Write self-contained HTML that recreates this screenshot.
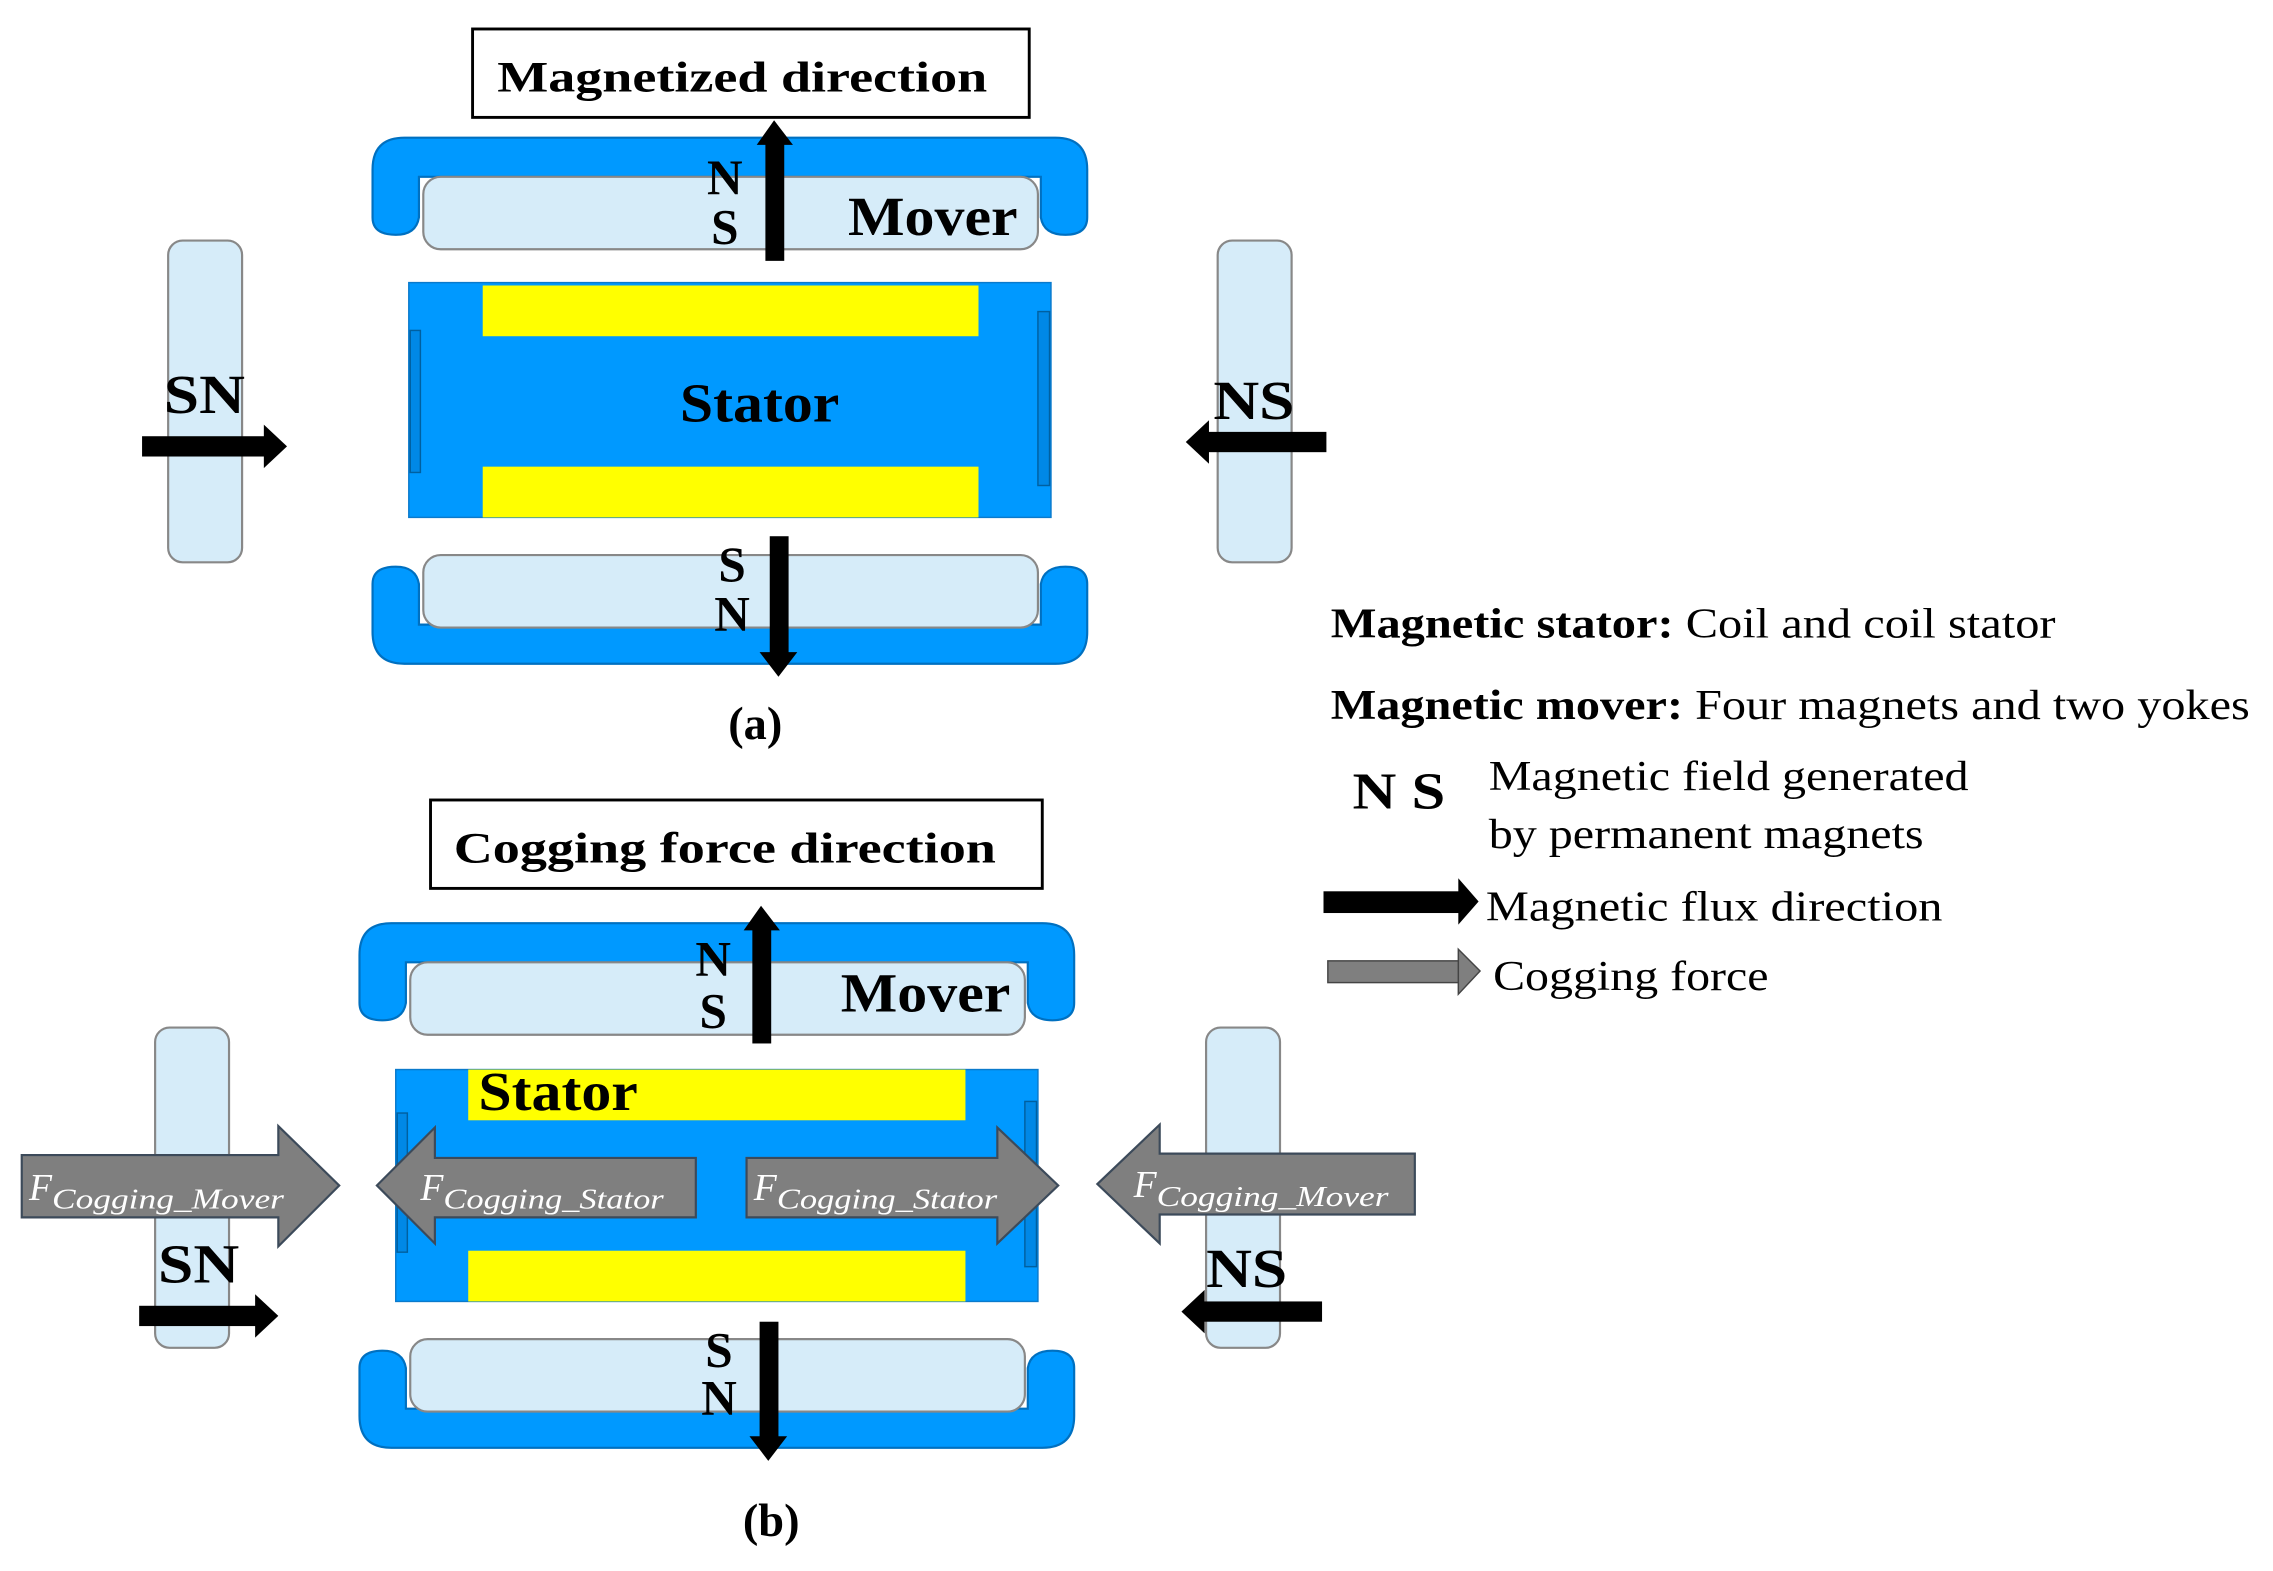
<!DOCTYPE html>
<html><head><meta charset="utf-8"><style>
html,body{margin:0;padding:0;background:#fff;}
svg{display:block;}
text{font-family:"Liberation Serif",serif;}
.b{font-weight:bold;}
.f{fill:#fff;font-style:italic;}
</style></head><body>
<svg width="2273" height="1571" viewBox="0 0 1568 1084" preserveAspectRatio="none" xmlns="http://www.w3.org/2000/svg">
<defs>
<path id="yk" d="M0,55 L0,22 Q0,0 22,0 L471,0 Q493,0 493,22 L493,55 Q493,67 478,67 Q463,67 461,55 L461,27 L32,27 L32,55 Q30,67 16,67 Q0,67 0,55 Z" fill="#0099ff" stroke="#0070c0" stroke-width="1.5"/>
<g id="topyoke">
  <use href="#yk"/>
  <rect x="35" y="27" width="424" height="50" rx="12" fill="#d6ecf9" stroke="#888" stroke-width="1.5"/>
</g>
<g id="botyoke">
  <use href="#yk" transform="translate(0,75) scale(1,-1)"/>
  <rect x="35" y="0" width="424" height="50" rx="12" fill="#d6ecf9" stroke="#888" stroke-width="1.5"/>
</g>
</defs>

<!-- (a) -->
<rect x="326" y="20" width="384" height="61" fill="#fff" stroke="#000" stroke-width="2"/>
<text x="512" y="63" class="b" font-size="30" text-anchor="middle" textLength="338" lengthAdjust="spacingAndGlyphs">Magnetized direction</text>

<use href="#topyoke" x="257" y="95"/>
<rect x="528" y="98" width="13" height="82" fill="#000"/>
<polygon points="534,83 522,100 547,100" fill="#000"/>
<text x="500" y="134" class="b" font-size="34" text-anchor="middle">N</text>
<text x="500" y="168" class="b" font-size="34" text-anchor="middle">S</text>
<text x="585" y="162" class="b" font-size="38" textLength="117" lengthAdjust="spacingAndGlyphs">Mover</text>

<rect x="282" y="195" width="443" height="162" fill="#0099ff" stroke="#0a7acc" stroke-width="1"/>
<rect x="333" y="197" width="342" height="35" fill="#ffff00"/>
<rect x="333" y="322" width="342" height="35" fill="#ffff00"/>
<rect x="283" y="228" width="7" height="98" fill="#0088e6" stroke="#0060a0" stroke-width="1"/>
<rect x="716" y="215" width="8" height="120" fill="#0088e6" stroke="#0060a0" stroke-width="1"/>
<text x="524" y="291" class="b" font-size="38" text-anchor="middle" textLength="110" lengthAdjust="spacingAndGlyphs">Stator</text>

<use href="#botyoke" x="257" y="383"/>
<rect x="531" y="370" width="13" height="82" fill="#000"/>
<polygon points="537,467 524,450 550,450" fill="#000"/>
<text x="505" y="401" class="b" font-size="34" text-anchor="middle">S</text>
<text x="505" y="435" class="b" font-size="34" text-anchor="middle">N</text>
<text x="521" y="510" class="b" font-size="32" text-anchor="middle">(a)</text>

<rect x="116" y="166" width="51" height="222" rx="10" fill="#d6ecf9" stroke="#888" stroke-width="1.5"/>
<text x="141" y="285" class="b" font-size="38" text-anchor="middle" textLength="56" lengthAdjust="spacingAndGlyphs">SN</text>
<rect x="98" y="301" width="86" height="14" fill="#000"/>
<polygon points="198,308 182,293 182,323" fill="#000"/>

<rect x="840" y="166" width="51" height="222" rx="10" fill="#d6ecf9" stroke="#888" stroke-width="1.5"/>
<text x="865" y="289" class="b" font-size="38" text-anchor="middle" textLength="56" lengthAdjust="spacingAndGlyphs">NS</text>
<rect x="832" y="298" width="83" height="14" fill="#000"/>
<polygon points="818,305 834,290 834,320" fill="#000"/>

<!-- (b) -->
<rect x="297" y="552" width="422" height="61" fill="#fff" stroke="#000" stroke-width="2"/>
<text x="500" y="595" class="b" font-size="30" text-anchor="middle" textLength="374" lengthAdjust="spacingAndGlyphs">Cogging force direction</text>

<use href="#topyoke" x="248" y="637"/>
<rect x="519" y="640" width="13" height="80" fill="#000"/>
<polygon points="525,625 513,642 538,642" fill="#000"/>
<text x="492" y="673" class="b" font-size="34" text-anchor="middle">N</text>
<text x="492" y="709" class="b" font-size="34" text-anchor="middle">S</text>
<text x="580" y="698" class="b" font-size="38" textLength="117" lengthAdjust="spacingAndGlyphs">Mover</text>

<rect x="107" y="709" width="51" height="221" rx="10" fill="#d6ecf9" stroke="#888" stroke-width="1.5"/>
<rect x="832" y="709" width="51" height="221" rx="10" fill="#d6ecf9" stroke="#888" stroke-width="1.5"/>

<rect x="273" y="738" width="443" height="160" fill="#0099ff" stroke="#0a7acc" stroke-width="1"/>
<rect x="323" y="738" width="343" height="35" fill="#ffff00"/>
<rect x="323" y="863" width="343" height="35" fill="#ffff00"/>
<rect x="274" y="768" width="7" height="96" fill="#0088e6" stroke="#0060a0" stroke-width="1"/>
<rect x="707" y="760" width="8" height="114" fill="#0088e6" stroke="#0060a0" stroke-width="1"/>
<text x="330" y="766" class="b" font-size="38" textLength="110" lengthAdjust="spacingAndGlyphs">Stator</text>

<text x="137" y="885" class="b" font-size="38" text-anchor="middle" textLength="56" lengthAdjust="spacingAndGlyphs">SN</text>
<rect x="96" y="901" width="82" height="14" fill="#000"/>
<polygon points="192,908 176,893 176,923" fill="#000"/>
<text x="860" y="888" class="b" font-size="38" text-anchor="middle" textLength="56" lengthAdjust="spacingAndGlyphs">NS</text>
<rect x="829" y="898" width="83" height="14" fill="#000"/>
<polygon points="815,905 831,890 831,920" fill="#000"/>

<!-- gray force arrows -->
<polygon points="15,797 192,797 192,777 234,818 192,860 192,840 15,840" fill="#7f7f7f" stroke="#3c4a5a" stroke-width="1.5"/>
<polygon points="480,799 300,799 300,778 260,818 300,858 300,840 480,840" fill="#7f7f7f" stroke="#3c4a5a" stroke-width="1.5"/>
<polygon points="515,799 688,799 688,778 730,818 688,858 688,840 515,840" fill="#7f7f7f" stroke="#3c4a5a" stroke-width="1.5"/>
<polygon points="976,796 800,796 800,776 757,817 800,858 800,838 976,838" fill="#7f7f7f" stroke="#3c4a5a" stroke-width="1.5"/>
<text x="20" y="828" class="f" font-size="26">F<tspan font-size="20" dy="6" textLength="160" lengthAdjust="spacingAndGlyphs">Cogging_Mover</tspan></text>
<text x="290" y="828" class="f" font-size="26">F<tspan font-size="20" dy="6" textLength="152" lengthAdjust="spacingAndGlyphs">Cogging_Stator</tspan></text>
<text x="520" y="828" class="f" font-size="26">F<tspan font-size="20" dy="6" textLength="152" lengthAdjust="spacingAndGlyphs">Cogging_Stator</tspan></text>
<text x="782" y="826" class="f" font-size="26">F<tspan font-size="20" dy="6" textLength="160" lengthAdjust="spacingAndGlyphs">Cogging_Mover</tspan></text>

<use href="#botyoke" x="248" y="924"/>
<rect x="524" y="912" width="13" height="80" fill="#000"/>
<polygon points="530,1008 517,991 543,991" fill="#000"/>
<text x="496" y="943" class="b" font-size="34" text-anchor="middle">S</text>
<text x="496" y="976" class="b" font-size="34" text-anchor="middle">N</text>
<text x="532" y="1060" class="b" font-size="32" text-anchor="middle">(b)</text>

<!-- legend -->
<text x="918" y="440" font-size="29" textLength="500" lengthAdjust="spacingAndGlyphs"><tspan class="b">Magnetic stator:</tspan> Coil and coil stator</text>
<text x="918" y="496" font-size="29" textLength="634" lengthAdjust="spacingAndGlyphs"><tspan class="b">Magnetic mover:</tspan> Four magnets and two yokes</text>
<text x="933" y="558" class="b" font-size="36" textLength="64" lengthAdjust="spacingAndGlyphs">N S</text>
<text x="1027" y="545" font-size="29" textLength="331" lengthAdjust="spacingAndGlyphs">Magnetic field generated</text>
<text x="1027" y="585" font-size="29" textLength="300" lengthAdjust="spacingAndGlyphs">by permanent magnets</text>
<rect x="913" y="615" width="95" height="15" fill="#000"/>
<polygon points="1020,622 1006,606 1006,638" fill="#000"/>
<text x="1025" y="635" font-size="29" textLength="315" lengthAdjust="spacingAndGlyphs">Magnetic flux direction</text>
<rect x="916" y="663" width="92" height="15" fill="#7f7f7f" stroke="#444" stroke-width="1"/>
<polygon points="1021,670 1006,655 1006,686" fill="#7f7f7f" stroke="#444" stroke-width="1"/>
<text x="1030" y="683" font-size="29" textLength="190" lengthAdjust="spacingAndGlyphs">Cogging force</text>
</svg>
</body></html>
